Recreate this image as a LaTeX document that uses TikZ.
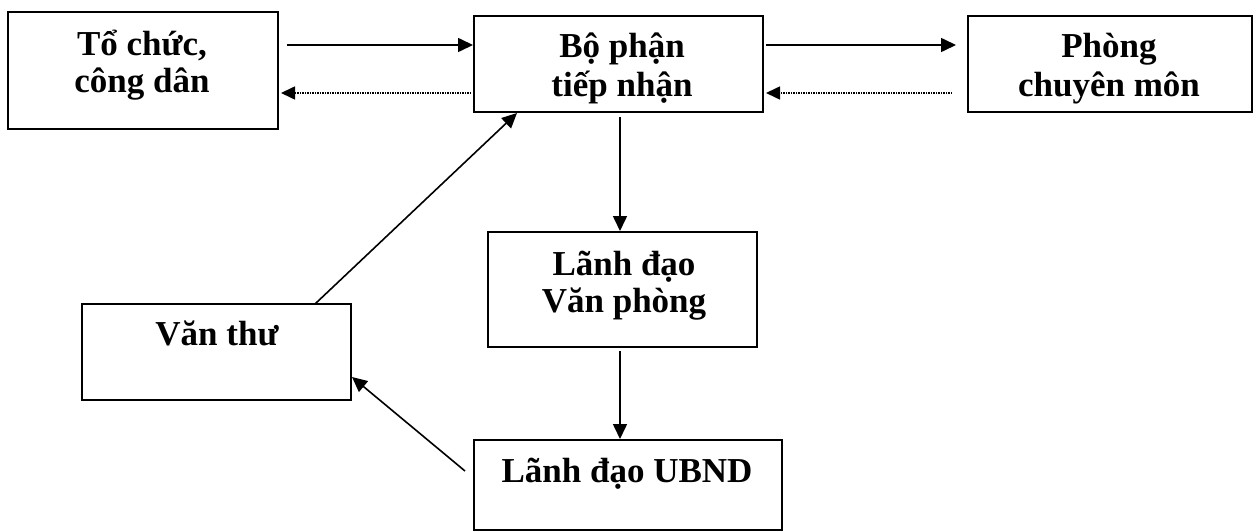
\documentclass[tikz,border=0pt]{standalone}
\usepackage{fontspec}
\setmainfont{Liberation Serif}
\usetikzlibrary{arrows.meta}
\begin{document}
\begin{tikzpicture}[x=1pt,y=-1pt,
  box/.style={draw=black,line width=2pt,fill=white,inner sep=0pt},
  txt/.style={anchor=base,inner sep=0pt,font=\fontsize{35}{38}\selectfont\bfseries},
  arr/.style={line width=1.6pt,-{Triangle[length=15pt,width=14pt]}},
  dotarr/.style={line width=1.6pt,dash pattern=on 1.3pt off 1.2pt,-{Triangle[length=14pt,width=13pt]}}]
\useasboundingbox (0,0) rectangle (1253,532);
\fill[white] (0,0) rectangle (1253,532);
% boxes
\node[box,minimum width=270pt,minimum height=117pt] (b1) at (143,70.5) {};
\node[box,minimum width=289pt,minimum height=96pt] (b2) at (618.5,64) {};
\node[box,minimum width=284pt,minimum height=96pt] (b3) at (1110,64) {};
\node[box,minimum width=269pt,minimum height=115pt] (b4) at (622.5,289.5) {};
\node[box,minimum width=269pt,minimum height=96pt] (b5) at (216.5,352) {};
\node[box,minimum width=308pt,minimum height=90pt] (b6) at (628,485) {};
% texts
\node[txt] (t1a) at (142,56) {Tổ chức,};
\node[txt] (t1b) at (142,93) {công dân};
\node[txt] (t2a) at (622,58) {Bộ phận};
\node[txt] (t2b) at (622,97) {tiếp nhận};
\node[txt] (t3a) at (1109,58) {Phòng};
\node[txt] (t3b) at (1109,97) {chuyên môn};
\node[txt] (t4a) at (624,275) {Lãnh đạo};
\node[txt] (t4b) at (624,312) {Văn phòng};
\node[txt] (t5) at (217,345) {Văn thư};
\node[txt] (t6) at (627,482) {Lãnh đạo UBND};
% helper coordinates
\coordinate (yA) at (0,45);
\coordinate (yB) at (0,93);
\coordinate (xV) at (620,0);
% connectors
\draw[arr,shorten <=8pt] (b1.east |- yA) -- (b2.west |- yA);
\draw[dotarr,shorten <=2pt,shorten >=2pt] (b2.west |- yB) -- (b1.east |- yB);
\draw[arr,shorten <=2pt,shorten >=11pt] (b2.east |- yA) -- (b3.west |- yA);
\draw[dotarr,shorten <=15pt,shorten >=2pt] (b3.west |- yB) -- (b2.east |- yB);
\draw[arr,shorten <=4pt] (b2.south -| xV) -- (b4.north -| xV);
\draw[arr,shorten <=3pt] (b4.south -| xV) -- (b6.north -| xV);
\coordinate (p6) at (465,471);
\coordinate (p5) at (352,377);
\draw[arr] (p6) -- (p5);
\coordinate (q5) at (315,304);
\coordinate (q2) at (517,113);
\draw[arr] (q5) -- (q2);
\end{tikzpicture}
\end{document}
